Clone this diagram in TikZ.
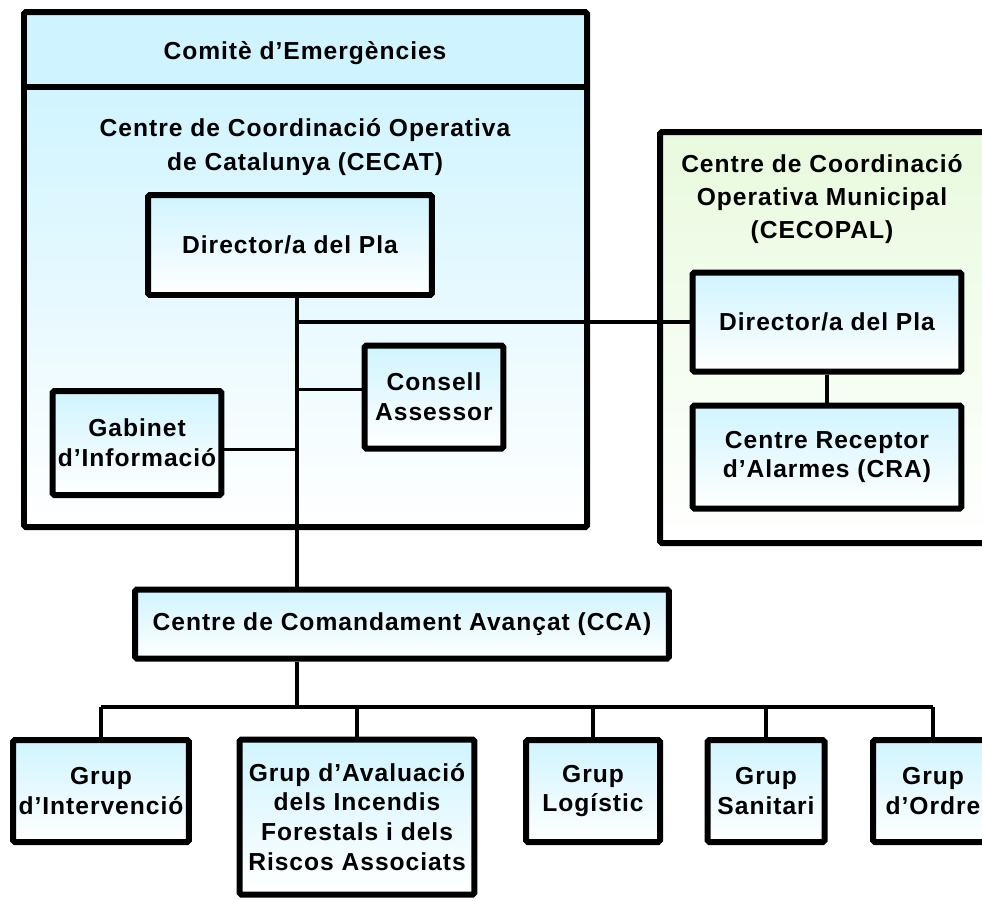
\documentclass[tikz,border=0pt]{standalone}
\usepackage{fontspec}
\setmainfont{Liberation Sans}[LetterSpace=4]
\usepackage{tikz}
\usetikzlibrary{positioning, calc}

\definecolor{paleCyan}{RGB}{208,244,255}
\definecolor{paleGreen}{RGB}{232,250,222}

\begin{document}
\begin{tikzpicture}[x=0.02cm, y=-0.02cm,
frame/.style={draw, line width=0.12cm, rounded corners=1pt},
box/.style={rectangle, draw, line width=0.12cm, rounded corners=1pt, top color=paleCyan, bottom color=white, align=center, inner sep=0pt, font=\fontsize{14}{17}\selectfont\bfseries},
title/.style={align=center, font=\fontsize{14}{19}\selectfont\bfseries},
link/.style={line width=0.065cm},
]
\clip (0,0) rectangle (982,900);

% Frames
\fill[paleCyan] (24,12) rectangle (587,87);
\shade[top color=paleCyan, bottom color=white] (24,87) rectangle (587,527);
\draw[frame] (24,12) rectangle (587,527);
\draw[frame] (24,87) -- (587,87);
\shade[top color=paleGreen, bottom color=white] (660,132) rectangle (1000,543);
\draw[frame] (1000,132) -- (660,132) -- (660,543) -- (1000,543);

%Nodes
\node [title] (comite) at (305,53) {Comitè d’Emergències};
\node [title] (cecat) at (305,147) {Centre de Coordinació Operativa\\de Catalunya (CECAT)};
\node [title] (cecopal) at (822,199) {Centre de Coordinació\\Operativa Municipal\\(CECOPAL)};

\node [box, minimum width=5.68cm, minimum height=2.0cm] (cecat_dir) at (290,245) {Director/a del Pla};
\node [box, minimum width=2.78cm, minimum height=2.06cm] (consell) at (434,397) {Consell\\Assessor};
\node [box, minimum width=3.38cm, minimum height=2.08cm] (gabinet) at (137,443) {Gabinet\\d’Informació};
\node [box, minimum width=5.38cm, minimum height=1.98cm] (cecopal_dir) at (827,322) {Director/a del Pla};
\node [box, minimum width=5.38cm, minimum height=2.06cm] (cra) at (827,457) {Centre Receptor\\d’Alarmes (CRA)};
\node [box, minimum width=10.68cm, minimum height=1.38cm] (cca) at (402,624) {Centre de Comandament Avançat (CCA)};

\node [box, minimum width=3.52cm, minimum height=2.04cm] (g_interv) at (101,791) {Grup\\d’Intervenció};
\node [box, minimum width=4.70cm, minimum height=3.10cm] (g_aval) at (357,817) {Grup d’Avaluació\\dels Incendis\\Forestals i dels\\Riscos Associats};
\node [box, minimum width=2.68cm, minimum height=2.04cm] (g_logist) at (593,791) {Grup\\Logístic};
\node [box, minimum width=2.34cm, minimum height=2.04cm] (g_sanit) at (766,791) {Grup\\Sanitari};
\node [box, minimum width=2.40cm, minimum height=2.04cm] (g_ordre) at (933,791) {Grup\\d’Ordre};

\coordinate (trunk) at (297,298);
\coordinate (bus) at (297,707);

% Paths
\draw [link] (trunk) -- (trunk |- cca.north);
\draw [link] (cecopal_dir.west -| trunk) -- (cecopal_dir.west);
\draw [link] (consell.174 -| trunk) -- (consell.174);
\draw [link] (gabinet.-4 -| trunk) -- (gabinet.-4);
\draw [link] (cecopal_dir) -- (cra);
\draw [link] (bus |- cca.south) -- (bus);
\draw [link] (g_interv.north |- bus) -- (g_ordre.north |- bus);
\foreach \g in {g_interv, g_aval, g_logist, g_sanit, g_ordre}
  \draw [link] (\g.north |- bus) -- (\g.north);
\end{tikzpicture}
\end{document}
